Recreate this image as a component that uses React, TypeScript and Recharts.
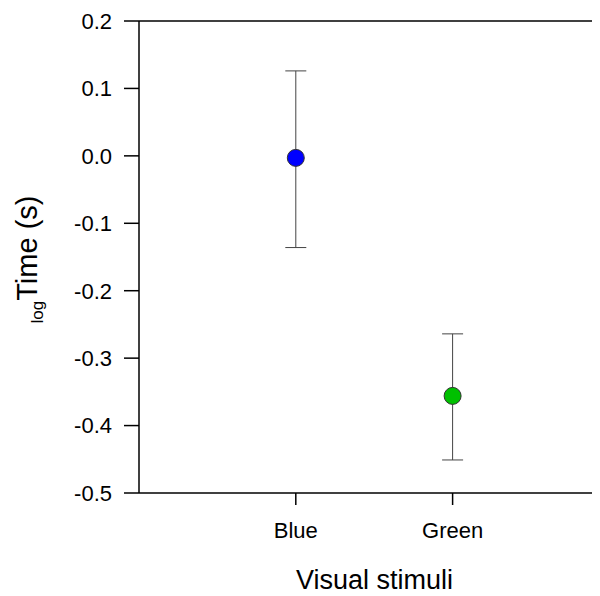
import { ScatterChart, Scatter, XAxis, YAxis, ErrorBar, Cell, ReferenceLine } from 'recharts';

const categories = ['Blue', 'Green'];
const means = [-0.003, -0.356];
const upper = [0.126, -0.264];
const lower = [-0.136, -0.451];
const pointColors = ['#0000ff', '#00c000'];
const yTicks = [-0.5, -0.4, -0.3, -0.2, -0.1, 0, 0.1, 0.2];

const data = categories.map((name, i) => ({
  x: i + 1,
  y: means[i],
  err: [means[i] - lower[i], upper[i] - means[i]],
}));

const font = '"Liberation Sans", Arial, sans-serif';

const Dot = (props: any) => (
  <circle cx={props.cx} cy={props.cy} r={8.5} fill={props.fill} stroke="#333" strokeWidth={1} />
);

export default function App() {
  return (
    <div style={{ fontFamily: font }}>
      <ScatterChart width={592} height={588} margin={{ top: 13, right: 0, left: 0, bottom: 0 }}>
        <XAxis
          type="number"
          dataKey="x"
          domain={[0, 2.94]}
          ticks={[1, 2]}
          tickFormatter={(v) => categories[v - 1]}
          height={103}
          tickSize={12}
          tickMargin={17}
          stroke="#000"
          strokeWidth={1.5}
          tick={{ fill: '#000', fontSize: 22, fontFamily: font }}
          label={(p: any) => (
            <text
              x={p.viewBox.x + 235.5}
              y={581}
              textAnchor="middle"
              fontSize={27}
              fontFamily={font}
              fill="#000"
            >
              Visual stimuli
            </text>
          )}
        />
        <YAxis
          type="number"
          dataKey="y"
          domain={[-0.5, 0.2]}
          ticks={yTicks}
          tickFormatter={(v) => v.toFixed(1)}
          width={131}
          tickSize={15}
          tickMargin={12}
          stroke="#000"
          strokeWidth={1.5}
          tick={{ fill: '#000', fontSize: 22, fontFamily: font }}
          label={() => (
            <text
              x={29}
              y={251.5}
              transform="rotate(-90, 29, 251.5)"
              textAnchor="middle"
              fontFamily={font}
              fill="#000"
            >
              <tspan fontSize={17} dy={6}>log</tspan>
              <tspan fontSize={29} dy={-6}>Time (s)</tspan>
            </text>
          )}
        />
        <ReferenceLine y={0.2} stroke="#000" strokeWidth={1.5} />
        <Scatter data={data} shape={Dot} isAnimationActive={false}>
          {data.map((_, i) => (
            <Cell key={i} fill={pointColors[i]} />
          ))}
          <ErrorBar dataKey="err" direction="y" width={10.5} stroke="#444" strokeWidth={1} />
        </Scatter>
      </ScatterChart>
    </div>
  );
}
